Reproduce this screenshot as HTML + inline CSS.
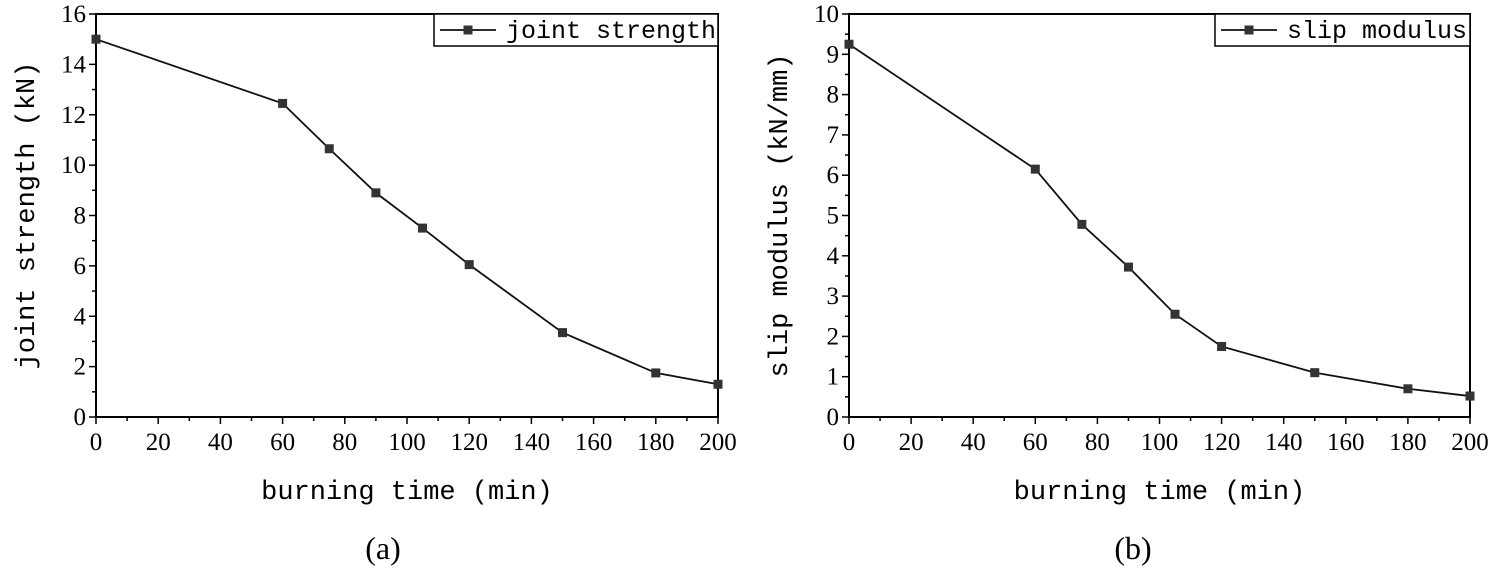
<!DOCTYPE html>
<html><head><meta charset="utf-8"><style>
body{margin:0;background:#fff;width:1494px;height:570px;overflow:hidden}
svg{display:block}
.tk{font-family:"Liberation Serif",serif;font-size:25px;fill:#000}
.ttl{font-family:"Liberation Mono",monospace;font-size:27px;fill:#000}
.lg{font-family:"Liberation Mono",monospace;font-size:25px;fill:#000}
.cap{font-family:"Liberation Serif",serif;font-size:32px;fill:#000}
</style></head><body>
<svg id="chart" width="1494" height="570" xmlns="http://www.w3.org/2000/svg"></svg>
<script>
const xVals=[0,60,75,90,105,120,150,180,200];
const strengthVals=[15,12.45,10.65,8.9,7.5,6.05,3.35,1.75,1.3];
const slipVals=[9.25,6.15,4.78,3.72,2.55,1.75,1.1,0.7,0.52];
const xTicks=[0,20,40,60,80,100,120,140,160,180,200];
const yTicksA=[0,2,4,6,8,10,12,14,16];
const yTicksB=[0,1,2,3,4,5,6,7,8,9,10];
const svg=document.getElementById('chart');
const NS='http://www.w3.org/2000/svg';
function mk(tag,attrs,parent,text){const e=document.createElementNS(NS,tag);for(const k in attrs)e.setAttribute(k,attrs[k]);if(text!==undefined)e.textContent=text;(parent||svg).appendChild(e);return e;}
function panel(id,L,R,T,B,yMax,yTicks,minorStep,vals,yTitle,legendText,legX,cap,capX){
  const g=mk('g',{});
  
  
  const sx=v=>L+(v/200)*(R-L), sy=v=>B-(v/yMax)*(B-T);
  for(let v=0;v<=200;v+=10){const x=sx(v);const major=v%20===0;mk('line',{x1:x,y1:B,x2:x,y2:B+(major?7:4),stroke:'#000','stroke-width':1.5},g);}
  xTicks.forEach(v=>{const t=mk('text',{x:sx(v),y:B+33,'text-anchor':'middle',class:'tk'},g,v);});
  for(let v=0;v<=yMax+1e-9;v+=minorStep){const y=sy(v);const major=Math.abs(v/(minorStep*2)-Math.round(v/(minorStep*2)))<1e-6;mk('line',{x1:L,y1:y,x2:L-(major?7:4),y2:y,stroke:'#000','stroke-width':1.5},g);}
  yTicks.forEach(v=>{const t=mk('text',{x:L-10,y:sy(v)+8,'text-anchor':'end',class:'tk'},g,v);});
  mk('rect',{x:L,y:T,width:R-L,height:B-T,fill:'none',stroke:'#000','stroke-width':2},g);
  const pts=xVals.map((x,i)=>sx(x)+','+sy(vals[i])).join(' ');
  const line=mk('polyline',{points:pts,fill:'none',stroke:'#111','stroke-width':1.8},g);
  
  xVals.forEach((x,i)=>{const m=mk('rect',{x:sx(x)-4.5,y:sy(vals[i])-4.5,width:9,height:9,fill:'#333'},g);});
  const xt=mk('text',{x:(L+R)/2,y:B+82,'text-anchor':'middle',class:'ttl'},g,'burning time (min)');
  
  const yt=mk('text',{x:0,y:0,'text-anchor':'middle',class:'ttl',transform:`translate(${L-62},${(T+B)/2}) rotate(-90)`},g,yTitle);
  
  const lg=mk('g',{},g);
  mk('rect',{x:legX,y:T,width:R-legX,height:32,fill:'#fff',stroke:'#000','stroke-width':1.5},lg);
  mk('line',{x1:legX+6,y1:T+16,x2:legX+62,y2:T+16,stroke:'#111','stroke-width':1.8},lg);
  mk('rect',{x:legX+29.5,y:T+11.5,width:9,height:9,fill:'#333'},lg);
  mk('text',{x:legX+72,y:T+24,class:'lg'},lg,legendText);
  const c=mk('text',{x:capX,y:559,'text-anchor':'middle',class:'cap'},g,cap);
  
}
panel('panel-a-joint-strength',96,718,14,417,16,yTicksA,1,strengthVals,'joint strength (kN)','joint strength',434,'(a)',383);
panel('panel-b-slip-modulus',849,1470,14,417,10,yTicksB,0.5,slipVals,'slip modulus (kN/mm)','slip modulus',1215,'(b)',1133);
</script>
</body></html>
